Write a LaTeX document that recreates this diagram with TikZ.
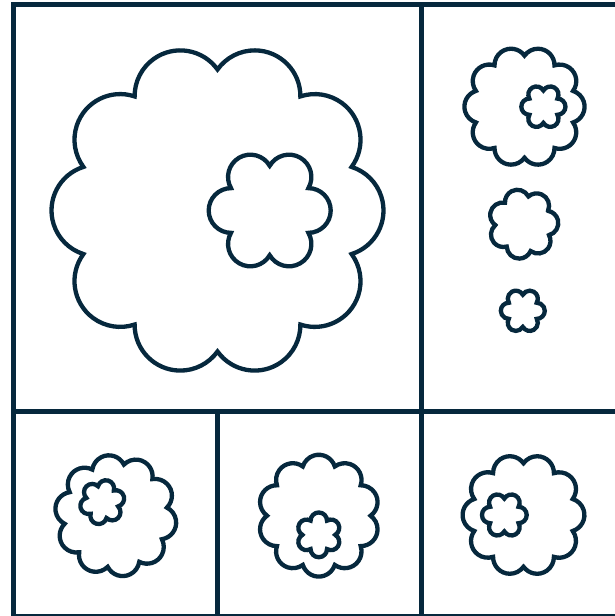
\documentclass[tikz,border=0pt]{standalone}
\definecolor{navy}{RGB}{6,40,61}
\tikzset{
  flw/.style={draw=navy, line width=4.3pt, line join=miter, fill=white},
  frm/.style={draw=navy, line width=5pt}
}
% #1 x, #2 y, #3 cusp radius, #4 peak radius, #5 bumps, #6 first cusp angle
\newcommand\flwr[6]{%
  \pgfmathsetmacro\fx{#1}\pgfmathsetmacro\fy{#2}%
  \pgfmathsetmacro\fRc{#3}\pgfmathsetmacro\fRp{#4}%
  \pgfmathsetmacro\fst{#6}%
  \pgfmathsetmacro\fb{180/#5}%
  \pgfmathsetmacro\fh{\fRc*sin(\fb)}%
  \pgfmathsetmacro\fs{\fRp-\fRc*cos(\fb)}%
  \pgfmathsetmacro\fa{2*atan(\fs/\fh)}%
  \pgfmathsetmacro\fr{\fh/sin(\fa)}%
  \draw[flw] ([shift={(\fx,\fy)}]\fst:\fRc pt)
    \foreach \k in {1,...,#5}{ arc[start angle={\fst+(2*\k-1)*\fb-\fa}, end angle={\fst+(2*\k-1)*\fb+\fa}, radius=\fr pt] } -- cycle;
}
% composite: #1 x, #2 y, #3 scale, #4 rotation
\newcommand\flcomp[4]{%
  \pgfmathsetmacro\cix{#1+52.2*#3*cos(#4)}%
  \pgfmathsetmacro\ciy{#2+52.2*#3*sin(#4)}%
  \flwr{#1}{#2}{141*#3}{166*#3}{10}{90+#4}%
  \flwr{\cix}{\ciy}{44.7*#3}{61*#3}{6}{90+#4}%
}
\begin{document}
\begin{tikzpicture}[x=1pt,y=1pt]
\useasboundingbox (0,0) rectangle (615,616);
\clip (0,0) rectangle (615,616);
% frame
\draw[frm] (13.8,611) rectangle (625.4,-0.8);
\draw[frm] (421.5,611) -- (421.5,-0.8);
\draw[frm] (13.8,204) -- (625.4,204);
\draw[frm] (217.7,204) -- (217.7,-0.8);
% big cell
\flcomp{217.5}{405.5}{1}{0}
% right column
\flcomp{524.5}{509.3}{0.362}{0}
\flwr{523.3}{392}{28}{35}{7}{28}
\flwr{522.8}{305.2}{16.1}{22}{6}{90}
% bottom row
\flcomp{115.8}{100.3}{0.367}{135}
\flcomp{318.8}{100.3}{0.367}{270}
\flcomp{523.5}{101}{0.367}{180}
\end{tikzpicture}
\end{document}
